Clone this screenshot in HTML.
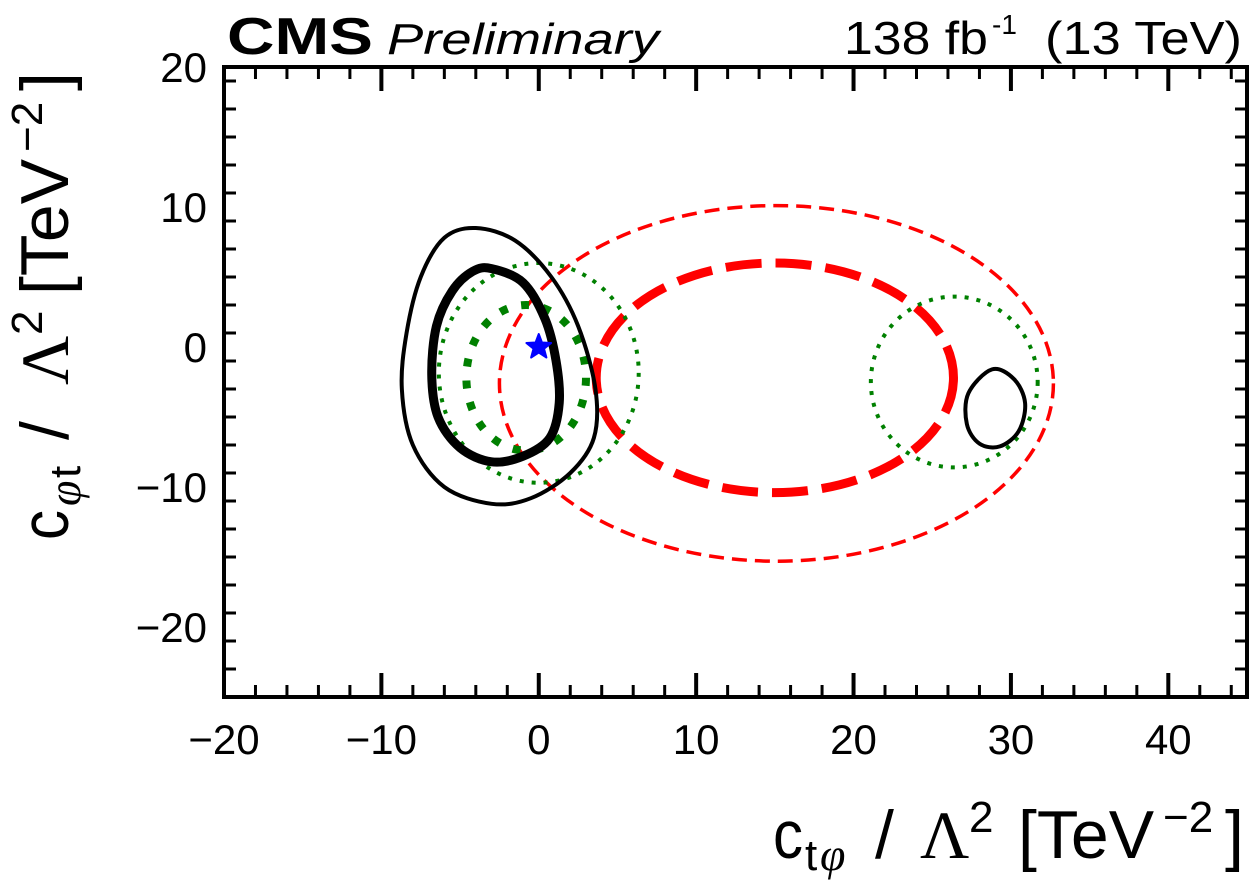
<!DOCTYPE html>
<html><head><meta charset="utf-8"><style>
body{margin:0;background:#fff}
svg{display:block;font-family:"Liberation Sans",sans-serif}
</style></head><body>
<svg id="c" width="1251" height="880" viewBox="0 0 1251 880">
<g id="marks"></g>
<g id="axes"></g>
<text x="227" y="54" font-size="52" font-weight="bold" textLength="146" lengthAdjust="spacingAndGlyphs">CMS</text>
<text x="387" y="54" font-size="44" font-style="italic" textLength="272" lengthAdjust="spacingAndGlyphs">Preliminary</text>
<text x="844" y="54" font-size="46"><tspan textLength="144" lengthAdjust="spacingAndGlyphs">138 fb</tspan><tspan x="992" dy="-20" font-size="28">-1</tspan><tspan x="1045" dy="20" textLength="197" lengthAdjust="spacingAndGlyphs">(13 TeV)</tspan></text>
<g transform="translate(773,858)">
<text font-size="68"><tspan x="0" y="0" textLength="30" lengthAdjust="spacingAndGlyphs">c</tspan><tspan x="32" y="12" font-size="44">t</tspan><tspan x="47" y="12" font-size="46" font-family="Liberation Serif" font-style="italic">φ</tspan><tspan x="102" y="0">/</tspan><tspan x="147" y="0" font-family="Liberation Serif">Λ</tspan><tspan x="196" y="-26" font-size="44">2</tspan><tspan x="245" y="0">[TeV</tspan><tspan x="390" y="-26" font-size="44">−2</tspan><tspan x="452" y="0">]</tspan></text>
</g>
<g transform="translate(68,540) rotate(-90)">
<text font-size="68"><tspan x="0" y="0" textLength="30" lengthAdjust="spacingAndGlyphs">c</tspan><tspan x="34" y="12" font-size="46" font-family="Liberation Serif" font-style="italic">φ</tspan><tspan x="62" y="12" font-size="44">t</tspan><tspan x="100" y="0">/</tspan><tspan x="155" y="0" font-family="Liberation Serif">Λ</tspan><tspan x="205" y="-26" font-size="44">2</tspan><tspan x="245" y="0">[TeV</tspan><tspan x="388" y="-26" font-size="44">−2</tspan><tspan x="449" y="0">]</tspan></text>
</g>
</svg>
<script>
const xDomain=[-20,45], yDomain=[-25,20];
const xTicks=[-20,-10,0,10,20,30,40];
const xTickLabels=["\u221220","\u221210","0","10","20","30","40"];
const yTicks=[-20,-10,0,10,20];
const yTickLabels=["\u221220","\u221210","0","10","20"];
const outerBlack=[[-4,8.5],[-1.5,7.6],[0.8,5],[2.5,1.5],[3.6,-3],[3.5,-6.5],[2,-9],[-0.5,-10.8],[-3,-11.2],[-6,-10],[-8,-7],[-8.7,-3],[-8.4,1],[-7.5,5],[-6,7.8]];
const innerBlack=[[-3,5.6],[-1,4.6],[0.4,2],[1.1,-1],[1.3,-4],[0.7,-6.5],[-1,-7.8],[-3,-8.2],[-5,-7.2],[-6.4,-5],[-6.8,-2],[-6.5,1.5],[-5.5,4],[-4.2,5.4]];
const rightBlack=[[28.8,-1.6],[30.2,-2.3],[30.9,-4],[30.5,-6],[29.3,-7.1],[28,-6.9],[27.2,-5.5],[27.3,-3.3]];
const greenThick=[-0.8,-2.2,3.8,5.2];
const greenThin=[0,-1.85,6.35,7.85];
const greenThinRight=[26.4,-2.5,5.3,6.1];
const redThick=[15,-2.2,11.35,8.2];
const redThin=[15.1,-2.6,17.6,12.7];
const bestFit=[0,0];

const L=224,R=1247,T=67,B=697;
const sx=v=>L+(v-xDomain[0])/(xDomain[1]-xDomain[0])*(R-L);
const sy=v=>B-(v-yDomain[0])/(yDomain[1]-yDomain[0])*(B-T);
const NS="http://www.w3.org/2000/svg";
const marks=document.getElementById('marks'), axes=document.getElementById('axes');
function mk(tag,attrs,parent){const e=document.createElementNS(NS,tag);for(const k in attrs)e.setAttribute(k,attrs[k]);parent.appendChild(e);return e;}
function closedPath(pts){
  const p=pts.map(q=>[sx(q[0]),sy(q[1])]);const n=p.length;let d=`M${p[0][0]},${p[0][1]}`;
  for(let i=0;i<n;i++){const p0=p[(i-1+n)%n],p1=p[i],p2=p[(i+1)%n],p3=p[(i+2)%n];
    d+=`C${p1[0]+(p2[0]-p0[0])/6},${p1[1]+(p2[1]-p0[1])/6} ${p2[0]-(p3[0]-p1[0])/6},${p2[1]-(p3[1]-p1[1])/6} ${p2[0]},${p2[1]}`;}
  return d+'Z';
}
function ell(e,style,name){
  const el=mk('ellipse',Object.assign({cx:sx(e[0]),cy:sy(e[1]),rx:sx(e[0]+e[2])-sx(e[0]),ry:sy(e[1])-sy(e[1]+e[3]),fill:'none'},style),marks);
  
  
}
function cont(pts,style,name){
  const el=mk('path',Object.assign({d:closedPath(pts),fill:'none'},style),marks);
  
  
}
ell(redThin,{stroke:'#f00','stroke-width':3.5,'stroke-dasharray':'15 8'},'red-thin-dashed-contour');
ell(redThick,{stroke:'#f00','stroke-width':9,'stroke-dasharray':'36 14'},'red-thick-dashed-contour');
ell(greenThin,{stroke:'#008000','stroke-width':4,'stroke-dasharray':'4 8'},'green-thin-dotted-contour');
ell(greenThinRight,{stroke:'#008000','stroke-width':4,'stroke-dasharray':'4 8'},'green-thin-dotted-contour-right');
ell(greenThick,{stroke:'#008000','stroke-width':8,'stroke-dasharray':'8 14'},'green-thick-dotted-contour');
cont(outerBlack,{stroke:'#000','stroke-width':4},'black-thin-contour');
cont(innerBlack,{stroke:'#000','stroke-width':9},'black-thick-contour');
cont(rightBlack,{stroke:'#000','stroke-width':4},'black-thin-contour-right');
(function(){const cx=sx(bestFit[0]),cy=sy(bestFit[1]);let d='';for(let i=0;i<10;i++){const r=i%2?5.5:13,a=-Math.PI/2+i*Math.PI/5;d+=(i?'L':'M')+(cx+r*Math.cos(a))+','+(cy+r*Math.sin(a));}
const s=mk('path',{d:d+'Z',fill:'#00f',stroke:'#00f','stroke-width':2,'stroke-linejoin':'round'},marks);

})();
const fr=mk('rect',{x:L,y:T,width:R-L,height:B-T,fill:'none',stroke:'#000','stroke-width':4},axes);


for(let v=xDomain[0];v<=xDomain[1];v+=2){const maj=v%10===0,l=maj?24:12,x=sx(v);
 mk('line',{x1:x,x2:x,y1:B,y2:B-l,stroke:'#000','stroke-width':maj?4:3},axes);
 mk('line',{x1:x,x2:x,y1:T,y2:T+l,stroke:'#000','stroke-width':maj?4:3},axes);}
for(let v=yDomain[0];v<=yDomain[1];v+=2){const maj=v%10===0,l=maj?24:12,y=sy(v);
 mk('line',{y1:y,y2:y,x1:L,x2:L+l,stroke:'#000','stroke-width':maj?4:3},axes);
 mk('line',{y1:y,y2:y,x1:R,x2:R-l,stroke:'#000','stroke-width':maj?4:3},axes);}
xTicks.forEach((v,i)=>{const t=mk('text',{x:sx(v),y:754,'font-size':42,'text-anchor':'middle'},axes);t.textContent=xTickLabels[i];
 
 });
yTicks.forEach((v,i)=>{const t=mk('text',{x:207,y:sy(v)+15,'font-size':42,'text-anchor':'end'},axes);t.textContent=yTickLabels[i];
 
 });
</script>
</body></html>
